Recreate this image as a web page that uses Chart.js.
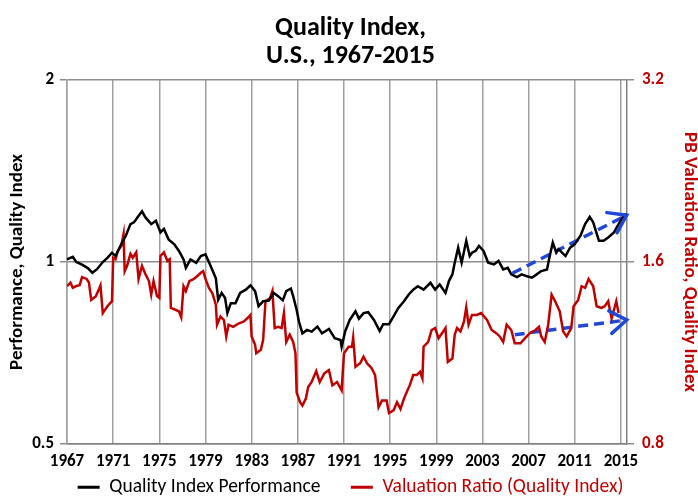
<!DOCTYPE html>
<html>
<head>
<meta charset="utf-8">
<script src="https://cdn.jsdelivr.net/npm/chart.js@4.4.1/dist/chart.umd.min.js"></script>
<style>
  html, body { margin: 0; padding: 0; background: #fff; }
  #wrap { width: 698px; height: 498px; }
</style>
</head>
<body>
<div id="wrap"><canvas id="c"></canvas></div>
<script>
// Quality Index performance (left axis, log)
const perfYears = [1967.0,1967.5,1967.8,1968.3,1968.8,1969.2,1969.6,1970.1,1970.5,1970.9,1971.2,1971.7,1972.1,1972.5,1972.8,1973.1,1973.5,1973.8,1974.3,1974.7,1975.1,1975.4,1975.8,1976.3,1976.7,1977.1,1977.3,1977.7,1978.2,1978.6,1979.0,1979.4,1979.9,1980.1,1980.4,1980.7,1980.9,1981.2,1981.6,1982.0,1982.5,1982.9,1983.3,1983.6,1984.0,1984.5,1984.9,1985.3,1985.7,1986.0,1986.4,1986.6,1986.9,1987.1,1987.4,1987.8,1988.2,1988.7,1989.1,1989.7,1990.2,1990.7,1990.8,1991.1,1991.5,1992.0,1992.3,1992.7,1993.1,1993.6,1994.1,1994.4,1994.9,1995.3,1995.7,1996.2,1996.6,1997.0,1997.4,1997.9,1998.5,1998.9,1999.3,1999.8,2000.1,2000.4,2000.6,2000.9,2001.2,2001.6,2001.9,2002.1,2002.4,2002.7,2003.1,2003.5,2004.0,2004.4,2004.8,2005.2,2005.5,2006.0,2006.4,2006.8,2007.3,2007.7,2008.1,2008.6,2008.8,2009.1,2009.4,2009.6,2010.2,2010.6,2011.0,2011.5,2011.9,2012.3,2012.6,2013.1,2013.5,2013.9,2014.4,2014.8,2015.3,2015.5];
const perfValues = [1.01,1.02,1.00,0.99,0.977,0.96,0.973,1.0,1.016,1.036,1.023,1.07,1.105,1.155,1.163,1.185,1.213,1.185,1.155,1.17,1.12,1.134,1.09,1.07,1.043,1.01,0.978,1.01,0.997,1.023,1.03,0.99,0.94,0.866,0.889,0.872,0.823,0.855,0.855,0.889,0.90,0.915,0.895,0.845,0.861,0.863,0.889,0.878,0.864,0.895,0.904,0.878,0.834,0.797,0.762,0.772,0.767,0.782,0.762,0.775,0.748,0.743,0.724,0.767,0.802,0.829,0.806,0.823,0.826,0.802,0.769,0.789,0.789,0.813,0.839,0.861,0.883,0.90,0.912,0.90,0.924,0.90,0.918,0.889,0.93,0.954,0.997,1.056,0.997,1.084,1.023,1.036,1.043,1.063,1.043,0.997,0.991,1.004,0.972,0.978,0.954,0.944,0.954,0.948,0.942,0.954,0.966,0.972,1.016,1.077,1.036,1.05,1.023,1.056,1.07,1.105,1.155,1.188,1.163,1.084,1.084,1.098,1.119,1.155,1.198,1.20];

// PB valuation ratio (right axis, log)
const pbYears = [1967.0,1967.3,1967.5,1967.8,1968.1,1968.3,1968.7,1968.9,1969.1,1969.5,1969.7,1969.9,1970.1,1970.5,1970.9,1971.0,1971.2,1971.4,1971.7,1971.9,1972.0,1972.2,1972.5,1972.7,1973.0,1973.2,1973.5,1973.8,1974.1,1974.3,1974.5,1974.8,1975.0,1975.1,1975.4,1975.7,1975.9,1976.0,1976.4,1976.7,1976.9,1977.1,1977.3,1977.6,1978.0,1978.3,1978.6,1978.8,1979.0,1979.3,1979.6,1979.9,1980.0,1980.3,1980.6,1980.8,1981.0,1981.4,1981.9,1982.3,1982.6,1982.9,1983.0,1983.3,1983.4,1983.8,1984.0,1984.2,1984.6,1984.8,1985.0,1985.3,1985.6,1985.8,1986.0,1986.3,1986.6,1986.8,1986.9,1987.2,1987.4,1987.7,1987.9,1988.2,1988.6,1988.9,1989.3,1989.7,1990.0,1990.4,1990.8,1991.0,1991.4,1991.7,1991.8,1992.0,1992.4,1992.7,1993.0,1993.4,1993.7,1994.0,1994.3,1994.7,1994.9,1995.3,1995.6,1995.9,1996.2,1996.5,1996.7,1997.0,1997.3,1997.6,1997.8,1997.9,1998.3,1998.6,1998.9,1999.2,1999.5,1999.8,2000.0,2000.4,2000.6,2000.8,2001.1,2001.4,2001.6,2001.8,2002.1,2002.5,2002.9,2003.4,2003.8,2004.2,2004.5,2004.8,2005.1,2005.5,2005.8,2006.3,2006.7,2007.1,2007.6,2007.9,2008.1,2008.4,2008.7,2009.0,2009.3,2009.7,2010.0,2010.3,2010.7,2010.9,2011.3,2011.6,2011.9,2012.2,2012.6,2012.9,2013.3,2013.6,2013.9,2014.2,2014.4,2014.6,2014.8];
const pbValues = [1.459,1.479,1.45,1.46,1.465,1.51,1.50,1.48,1.385,1.405,1.432,1.464,1.317,1.352,1.378,1.626,1.617,1.668,1.70,1.78,1.545,1.576,1.65,1.626,1.66,1.50,1.576,1.527,1.488,1.413,1.488,1.405,1.395,1.637,1.66,1.606,1.617,1.343,1.334,1.326,1.296,1.459,1.432,1.488,1.50,1.517,1.536,1.545,1.50,1.45,1.42,1.36,1.26,1.30,1.283,1.205,1.26,1.25,1.267,1.275,1.29,1.308,1.205,1.167,1.13,1.145,1.19,1.378,1.395,1.432,1.244,1.25,1.244,1.317,1.18,1.213,1.18,1.13,0.973,0.938,0.926,0.951,0.994,1.013,1.056,1.013,1.047,1.06,1.0,1.013,0.981,1.13,1.159,1.159,1.2,1.073,1.088,1.116,1.088,1.068,1.04,0.92,0.944,0.944,0.90,0.909,0.938,0.914,0.951,0.981,1.0,1.04,1.04,1.053,1.027,1.159,1.18,1.235,1.244,1.197,1.22,1.244,1.094,1.108,1.213,1.244,1.228,1.275,1.346,1.26,1.308,1.308,1.317,1.283,1.235,1.22,1.205,1.18,1.26,1.235,1.174,1.174,1.197,1.22,1.235,1.25,1.205,1.18,1.26,1.413,1.378,1.326,1.228,1.205,1.244,1.352,1.385,1.459,1.45,1.50,1.459,1.352,1.343,1.352,1.378,1.29,1.334,1.378,1.317];

// dashed trend arrows
const perfTrendYears = [2005.6, 2015.5];
const perfTrendValues = [0.958, 1.195];
const pbTrendYears = [2005.8, 2015.5];
const pbTrendValues = [1.213, 1.283];

const xTicks = [1967,1971,1975,1979,1983,1987,1991,1995,1999,2003,2007,2011,2015];
const leftTicks = [0.5, 1, 2];
const rightTicks = [0.8, 1.6, 3.2];

const FONT = "Carlito, 'Liberation Sans Narrow', 'Liberation Sans', Arial, sans-serif";
const RED = '#c00000';
const BLUE = '#1f48d6';

const pts = (xs, ys) => xs.map((x, i) => ({x: x, y: ys[i]}));

const arrowHeads = {
  id: 'arrowHeads',
  afterDatasetsDraw(chart) {
    const ctx = chart.ctx;
    chart.data.datasets.forEach((ds, i) => {
      if (!ds.arrow) return;
      const d = chart.getDatasetMeta(i).data;
      const a = d[d.length - 2], b = d[d.length - 1];
      const ang = Math.atan2(b.y - a.y, b.x - a.x);
      const len = 20, spread = 0.6;
      ctx.save();
      ctx.strokeStyle = BLUE;
      ctx.lineWidth = 3.5;
      ctx.lineCap = 'round';
      ctx.beginPath();
      ctx.moveTo(b.x - len * Math.cos(ang - spread), b.y - len * Math.sin(ang - spread));
      ctx.lineTo(b.x, b.y);
      ctx.lineTo(b.x - len * Math.cos(ang + spread), b.y - len * Math.sin(ang + spread));
      ctx.stroke();
      ctx.restore();
    });
  }
};

new Chart(document.getElementById('c'), {
  type: 'line',
  data: {
    datasets: [
      {
        label: 'Quality Index Performance',
        data: pts(perfYears, perfValues),
        yAxisID: 'yL',
        borderColor: '#000',
        backgroundColor: '#000',
        borderWidth: 2.5,
        pointRadius: 0,
        tension: 0
      },
      {
        label: 'Valuation Ratio (Quality Index)',
        data: pts(pbYears, pbValues),
        yAxisID: 'yR',
        borderColor: RED,
        backgroundColor: RED,
        borderWidth: 2.5,
        pointRadius: 0,
        tension: 0
      },
      {
        label: 'trend1',
        data: pts(perfTrendYears, perfTrendValues),
        yAxisID: 'yL',
        borderColor: BLUE,
        borderWidth: 3.5,
        borderDash: [10, 6],
        pointRadius: 0,
        arrow: true
      },
      {
        label: 'trend2',
        data: pts(pbTrendYears, pbTrendValues),
        yAxisID: 'yR',
        borderColor: BLUE,
        borderWidth: 3.5,
        borderDash: [10, 6],
        pointRadius: 0,
        arrow: true
      }
    ]
  },
  options: {
    responsive: true,
    maintainAspectRatio: false,
    animation: false,
    layout: { padding: { left: 0, right: -3, top: 0, bottom: -9 } },
    plugins: {
      tooltip: { enabled: false },
      title: {
        display: true,
        text: ['Quality Index,', 'U.S., 1967-2015'],
        color: '#000',
        font: { family: FONT, size: 26, weight: 'bold', lineHeight: '28px' },
        padding: { top: 14, bottom: 10 }
      },
      legend: {
        position: 'bottom',
        labels: {
          font: { family: FONT, size: 19.5 },
          boxWidth: 22,
          boxHeight: 3,
          padding: 4,
          filter: item => item.datasetIndex < 2,
          generateLabels(chart) {
            return chart.data.datasets.map((ds, i) => ({
              // trailing spaces give the gap between the two entries
              text: i === 0 ? ds.label + '      ' : ds.label,
              fillStyle: ds.borderColor,
              strokeStyle: ds.borderColor,
              fontColor: ds.borderColor,
              lineWidth: 0,
              hidden: false,
              datasetIndex: i
            }));
          }
        }
      }
    },
    scales: {
      x: {
        type: 'linear',
        min: 1967,
        max: 2015.53,
        afterBuildTicks: s => { s.ticks = xTicks.map(v => ({value: v})); },
        afterFit: s => { s.height = 29.5; },
        ticks: {
          color: '#000',
          font: { family: FONT, size: 17, weight: 'bold' },
          padding: 8,
          maxRotation: 0,
          autoSkip: false,
          callback: v => String(v)
        },
        grid: { color: '#a0a0a0', lineWidth: 1.5, drawTicks: false },
        border: { color: '#808080', width: 1.5 }
      },
      yL: {
        type: 'logarithmic',
        position: 'left',
        min: 0.5,
        max: 2,
        afterBuildTicks: s => { s.ticks = leftTicks.map(v => ({value: v})); },
        afterFit: s => { s.width = 67; },
        ticks: {
          color: '#000',
          font: { family: FONT, size: 17, weight: 'bold' },
          padding: 6,
          callback: v => String(v)
        },
        grid: { color: '#8c8c8c', lineWidth: 1.5, tickLength: 7 },
        border: { color: '#a0a0a0', width: 1.5 },
        title: {
          display: true,
          text: 'Performance, Quality Index',
          color: '#000',
          font: { family: FONT, size: 19, weight: 'bold' },
          padding: { top: 5.5, bottom: 0 }
        }
      },
      yR: {
        type: 'logarithmic',
        position: 'right',
        min: 0.8,
        max: 3.2,
        afterBuildTicks: s => { s.ticks = rightTicks.map(v => ({value: v})); },
        afterFit: s => { s.width = 74; },
        ticks: {
          color: RED,
          font: { family: FONT, size: 17, weight: 'bold' },
          padding: 8,
          callback: v => v.toFixed(1)
        },
        grid: { drawOnChartArea: false, color: '#8c8c8c', lineWidth: 1.5, tickLength: 7 },
        border: { color: '#808080', width: 1.5 },
        title: {
          display: true,
          text: 'PB Valuation Ratio, Quality Index',
          color: RED,
          font: { family: FONT, size: 19, weight: 'bold' },
          padding: { top: 0, bottom: 0 }
        }
      }
    }
  },
  plugins: [arrowHeads]
});
</script>
</body>
</html>
